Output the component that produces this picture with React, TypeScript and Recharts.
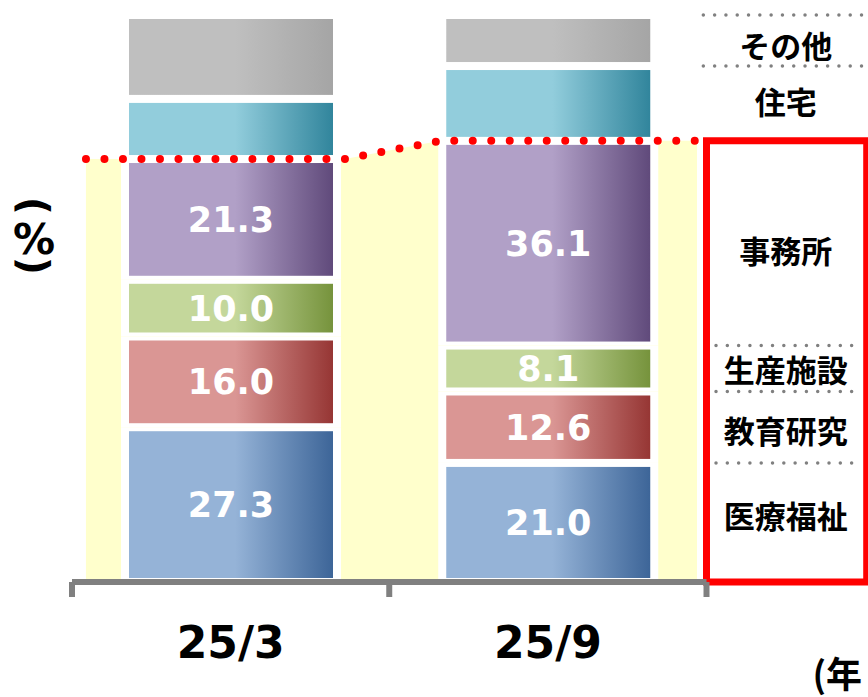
import React from "react";
import {
  ComposedChart,
  Bar,
  Area,
  Line,
  XAxis,
  YAxis,
  LabelList,
  ReferenceArea,
  ReferenceLine,
} from "recharts";

const periods = ["25/3", "25/9"];
const medical = [27.3, 21.0];
const education = [16.0, 12.6];
const factory = [10.0, 8.1];
const office = [21.3, 36.1];
const housing = [10.6, 13.2];
const other = [14.8, 9.0];

// red dotted line over the yellow band (x in category units, follows that period's office top)
const bandX = [0.044, 0.86, 1.16, 1.97];
const bandPeriod = [0, 0, 1, 1];

const W = 868;
const H = 697;
const MARGIN = { top: 15, right: 161.5, bottom: 55, left: 72 };
const HALF_BAND = (W - MARGIN.left - MARGIN.right) / periods.length / 2;
const NUM_FONT = "'DejaVu Sans', Verdana, sans-serif";
const JP_FONT = "'Noto Sans CJK JP', 'Noto Sans', sans-serif";

const series = [
  { key: "medical", name: "医療福祉", values: medical, showValue: true },
  { key: "education", name: "教育研究", values: education, showValue: true },
  { key: "factory", name: "生産施設", values: factory, showValue: true },
  { key: "office", name: "事務所", values: office, showValue: true },
  { key: "housing", name: "住宅", values: housing, showValue: false },
  { key: "other", name: "その他", values: other, showValue: false },
];

const palette: Record<string, [string, string]> = {
  medical: ["#95B3D7", "#3D6598"],
  education: ["#DA9694", "#963634"],
  factory: ["#C4D79B", "#76933C"],
  office: ["#B1A0C7", "#604A7B"],
  housing: ["#92CDDC", "#31859C"],
  other: ["#BFBFBF", "#A5A5A5"],
};

// small nudges so the legend words sit where the original has them
const legendDy: Record<string, number> = {
  medical: -8,
  education: 2,
  factory: 0,
  office: 6,
  housing: -3,
  other: 4,
};

const chartData = periods.map((period, i) => {
  const row: Record<string, string | number> = { period };
  series.forEach((s) => {
    row[s.key] = s.values[i];
  });
  return row;
});

const officeTop = periods.map(
  (_, i) => medical[i] + education[i] + factory[i] + office[i]
);
const bandData = bandX.map((x, i) => ({ x, total: officeTop[bandPeriod[i]] }));

// legend rows sit beside the latest bar
const last = periods.length - 1;
const legendRows = series.map((s, idx) => {
  const start = series.slice(0, idx).reduce((acc, t) => acc + t.values[last], 0);
  return { ...s, y1: start, y2: start + s.values[last] };
});
const dottedRules = ["other", "housing", "factory", "education", "medical"];

function SegmentShape(props: any) {
  const { x, y, width, height, fill } = props;
  if (!height || height <= 0) return null;
  return (
    <g>
      <rect x={x - 8} y={y} width={width + 16} height={height} fill="#ffffff" />
      <rect x={x} y={y + 4} width={width} height={Math.max(0, height - 8)} fill={fill} />
    </g>
  );
}

function PeriodTick(props: any) {
  const { x, y, payload, index } = props;
  const half = payload && typeof payload.offset === "number" && payload.offset > 0 ? payload.offset : HALF_BAND;
  return (
    <g>
      <line x1={x - half} x2={x - half} y1={y} y2={y + 15} stroke="#808080" strokeWidth={6} />
      {index === periods.length - 1 && (
        <line x1={x + half} x2={x + half} y1={y} y2={y + 15} stroke="#808080" strokeWidth={6} />
      )}
      <text
        x={x}
        y={y + 76}
        textAnchor="middle"
        fontFamily={NUM_FONT}
        fontWeight="bold"
        fontSize={44}
        fill="#000"
      >
        {payload.value}
      </text>
    </g>
  );
}

function LegendLabel(props: any) {
  const { viewBox, value, dy } = props;
  if (!viewBox) return null;
  const cx = viewBox.x + viewBox.width / 2;
  const cy = viewBox.y + viewBox.height / 2 + (dy || 0);
  return (
    <text
      x={cx}
      y={cy}
      textAnchor="middle"
      dominantBaseline="central"
      fontFamily={JP_FONT}
      fontWeight={700}
      fontSize={31}
      fill="#000"
    >
      {value}
    </text>
  );
}

export default function App() {
  return (
    <div style={{ position: "absolute", left: 0, top: 0, width: W, height: H, background: "#fff" }}>
      <ComposedChart width={W} height={H} data={chartData} margin={MARGIN}>
        <defs>
          {series.map((s) => (
            <linearGradient key={s.key} id={`grad-${s.key}`} x1="0" y1="0" x2="1" y2="0">
              <stop offset="0%" stopColor={palette[s.key][0]} />
              <stop offset="52%" stopColor={palette[s.key][0]} />
              <stop offset="100%" stopColor={palette[s.key][1]} />
            </linearGradient>
          ))}
        </defs>
        <XAxis
          xAxisId="cat"
          dataKey="period"
          type="category"
          height={60}
          tickLine={false}
          tickSize={0}
          tickMargin={0}
          axisLine={{ stroke: "#808080", strokeWidth: 6 }}
          tick={<PeriodTick />}
          interval={0}
        />
        <XAxis xAxisId="num" type="number" dataKey="x" domain={[0, periods.length]} allowDataOverflow hide />
        <YAxis domain={[0, 100]} hide />

        <Area
          xAxisId="num"
          data={bandData}
          dataKey="total"
          type="linear"
          stroke="none"
          fill="#FFFFCC"
          fillOpacity={1}
          isAnimationActive={false}
        />

        {series.map((s) => (
          <Bar
            key={s.key}
            xAxisId="cat"
            dataKey={s.key}
            name={s.name}
            stackId="mix"
            barSize={204}
            fill={`url(#grad-${s.key})`}
            shape={<SegmentShape />}
            isAnimationActive={false}
          >
            {s.showValue && (
              <LabelList
                dataKey={s.key}
                position="center"
                fill="#ffffff"
                fontSize={35}
                fontWeight="bold"
                fontFamily={NUM_FONT}
                formatter={(v: any) => Number(v).toFixed(1)}
              />
            )}
          </Bar>
        ))}

        <Line
          xAxisId="num"
          data={bandData}
          dataKey="total"
          type="linear"
          stroke="#FF0000"
          strokeWidth={8}
          strokeDasharray="0 18.5"
          strokeLinecap="round"
          dot={false}
          activeDot={false}
          isAnimationActive={false}
        />

        {legendRows.map((r) => (
          <ReferenceArea
            key={r.key}
            xAxisId="num"
            x1={2}
            x2={2.5}
            y1={r.y1}
            y2={r.y2}
            fill="none"
            stroke="none"
            ifOverflow="visible"
            label={<LegendLabel value={r.name} dy={legendDy[r.key]} />}
          />
        ))}

        {legendRows
          .filter((r) => dottedRules.includes(r.key))
          .map((r) => {
            const outside = r.key === "other" || r.key === "housing";
            return (
              <ReferenceLine
                key={`rule-${r.key}`}
                xAxisId="num"
                segment={[
                  { x: outside ? 1.99 : 2.03, y: r.y2 },
                  { x: outside ? 2.56 : 2.475, y: r.y2 },
                ]}
                stroke="#808080"
                strokeWidth={3.5}
                strokeDasharray="0 11.3"
                strokeLinecap="round"
                ifOverflow="visible"
              />
            );
          })}

        <ReferenceArea
          xAxisId="num"
          x1={2}
          x2={2.505}
          y1={0}
          y2={officeTop[last]}
          fill="none"
          fillOpacity={0}
          stroke="#FF0000"
          strokeWidth={7}
          ifOverflow="visible"
        />
      </ComposedChart>

      <svg
        width={W}
        height={H}
        style={{ position: "absolute", left: 0, top: 0, pointerEvents: "none" }}
      >
        <g transform="translate(34 206) rotate(90)">
          <text
            x={0}
            y={0}
            textAnchor="middle"
            dominantBaseline="central"
            fontFamily={NUM_FONT}
            fontWeight="bold"
            fontSize={40}
            fill="#000"
          >
            (
          </text>
        </g>
        <text
          x={34}
          y={239}
          textAnchor="middle"
          dominantBaseline="central"
          fontFamily={NUM_FONT}
          fontWeight="bold"
          fontSize={42}
          fill="#000"
        >
          %
        </text>
        <g transform="translate(34 266) rotate(90)">
          <text
            x={0}
            y={0}
            textAnchor="middle"
            dominantBaseline="central"
            fontFamily={NUM_FONT}
            fontWeight="bold"
            fontSize={40}
            fill="#000"
          >
            )
          </text>
        </g>
        <text
          x={862}
          y={672}
          textAnchor="end"
          dominantBaseline="central"
          fontFamily={JP_FONT}
          fontWeight="bold"
          fontSize={36}
          fill="#000"
        >
          (年
        </text>
      </svg>
    </div>
  );
}
